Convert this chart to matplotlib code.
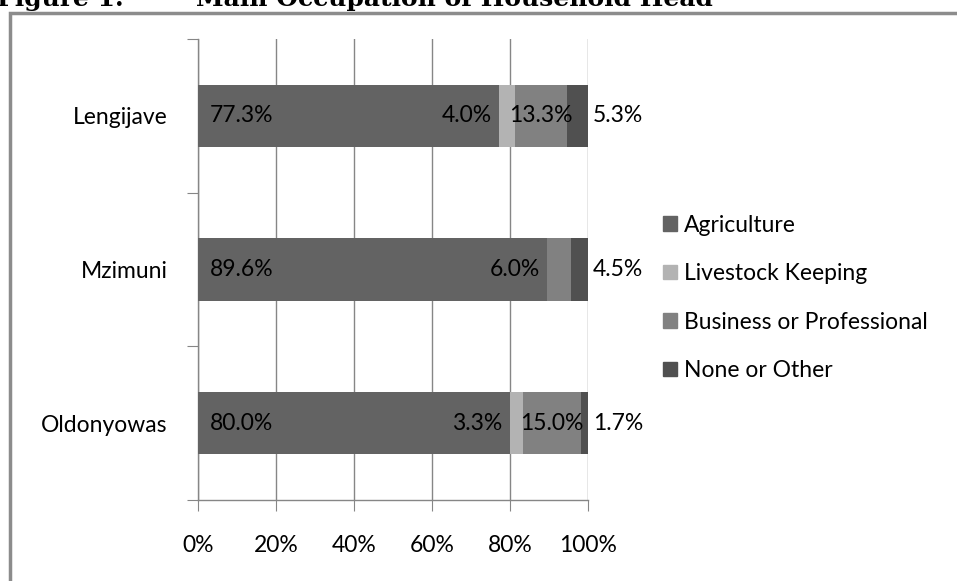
import matplotlib.pyplot as plt
from matplotlib.patches import Rectangle

# data (percent of households)
villages = ["Lengijave", "Mzimuni", "Oldonyowas"]
occupations = ["Agriculture", "Livestock Keeping", "Business or Professional", "None or Other"]
agriculture = [77.3, 89.6, 80.0]
livestock = [4.0, 0.0, 3.3]
business = [13.3, 6.0, 15.0]
none_other = [5.3, 4.5, 1.7]
x_ticks = [0, 20, 40, 60, 80, 100]

colors = ["#636363", "#b3b3b3", "#818181", "#505050"]
series = [agriculture, livestock, business, none_other]

plt.rcParams['font.family'] = ['Lato', 'DejaVu Sans']
FS = 16.5

fig = plt.figure(figsize=(9.57, 5.81), dpi=100)
W, H = 957, 581
ax = fig.add_axes([198 / W, (H - 500) / H, 390 / W, 461 / H])

# outer chart frame (only left and top edges visible in the crop)
fig.patches.append(Rectangle((10 / W, -0.1), 1.2, (H - 13) / H + 0.1,
                             transform=fig.transFigure, fill=False,
                             edgecolor="#8c8c8c", linewidth=2.5))

# title, cut off by the top of the picture
fig.text(-0.003, 1 - 6 / H, "Figure 1.", fontsize=18, fontweight='bold',
         family='DejaVu Serif', va='baseline', ha='left')
fig.text(196 / W, 1 - 6 / H, "Main Occupation of Household Head", fontsize=18,
         fontweight='bold', family='DejaVu Serif', va='baseline', ha='left')

ypos = list(range(len(villages)))
bar_h = 0.405

lefts = [0.0] * len(villages)
for k, (vals, col) in enumerate(zip(series, colors)):
    ax.barh(ypos, vals, left=lefts, height=bar_h, color=col, zorder=3)
    for i, v in enumerate(vals):
        start = lefts[i]
        if v > 0:
            txt = f"{v:.1f}%"
            if k == 0:
                ax.text(start + 3, ypos[i], txt, ha='left', va='center', fontsize=FS, zorder=4)
            elif k == 1 or (k == 2 and livestock[i] == 0):
                ax.text(start - 2, ypos[i], txt, ha='right', va='center', fontsize=FS, zorder=4)
            elif k == 2:
                ax.text(start + v / 2, ypos[i], txt, ha='center', va='center', fontsize=FS, zorder=4)
            else:
                ax.text(start + v + 1.2, ypos[i], txt, ha='left', va='center', fontsize=FS,
                        zorder=4, clip_on=False)
        lefts[i] += v

ax.set_xlim(0, 100)
ax.set_ylim(len(villages) - 0.5, -0.5)
ax.set_xticks(x_ticks)
ax.set_xticklabels([f"{t}%" for t in x_ticks], fontsize=FS)
ax.set_yticks([-0.5, 0.5, 1.5, 2.5])
ax.set_yticklabels([])
ax.set_yticks(ypos, minor=True)
ax.set_yticklabels(villages, minor=True, fontsize=FS)
ax.tick_params(axis='y', which='minor', length=0, pad=22)
ax.tick_params(axis='y', which='major', length=8, color="#868686", direction='out')
ax.tick_params(axis='x', length=8, color="#868686", direction='out', pad=17)

ax.grid(axis='x', color="#868686", linewidth=1, zorder=0)
for s in ['top', 'right']:
    ax.spines[s].set_visible(False)
for s in ['left', 'bottom']:
    ax.spines[s].set_color("#868686")
    ax.spines[s].set_linewidth(1)

handles = [Rectangle((0, 0), 1, 1, color=c) for c in colors]
leg = fig.legend(handles, occupations, loc='center left', bbox_to_anchor=(652 / W, 1 - 298 / H),
                 frameon=False, fontsize=FS, handlelength=0.6, handleheight=0.6,
                 handletextpad=0.3, labelspacing=1.2, borderpad=0)

fig.savefig("out.png", dpi=100)
